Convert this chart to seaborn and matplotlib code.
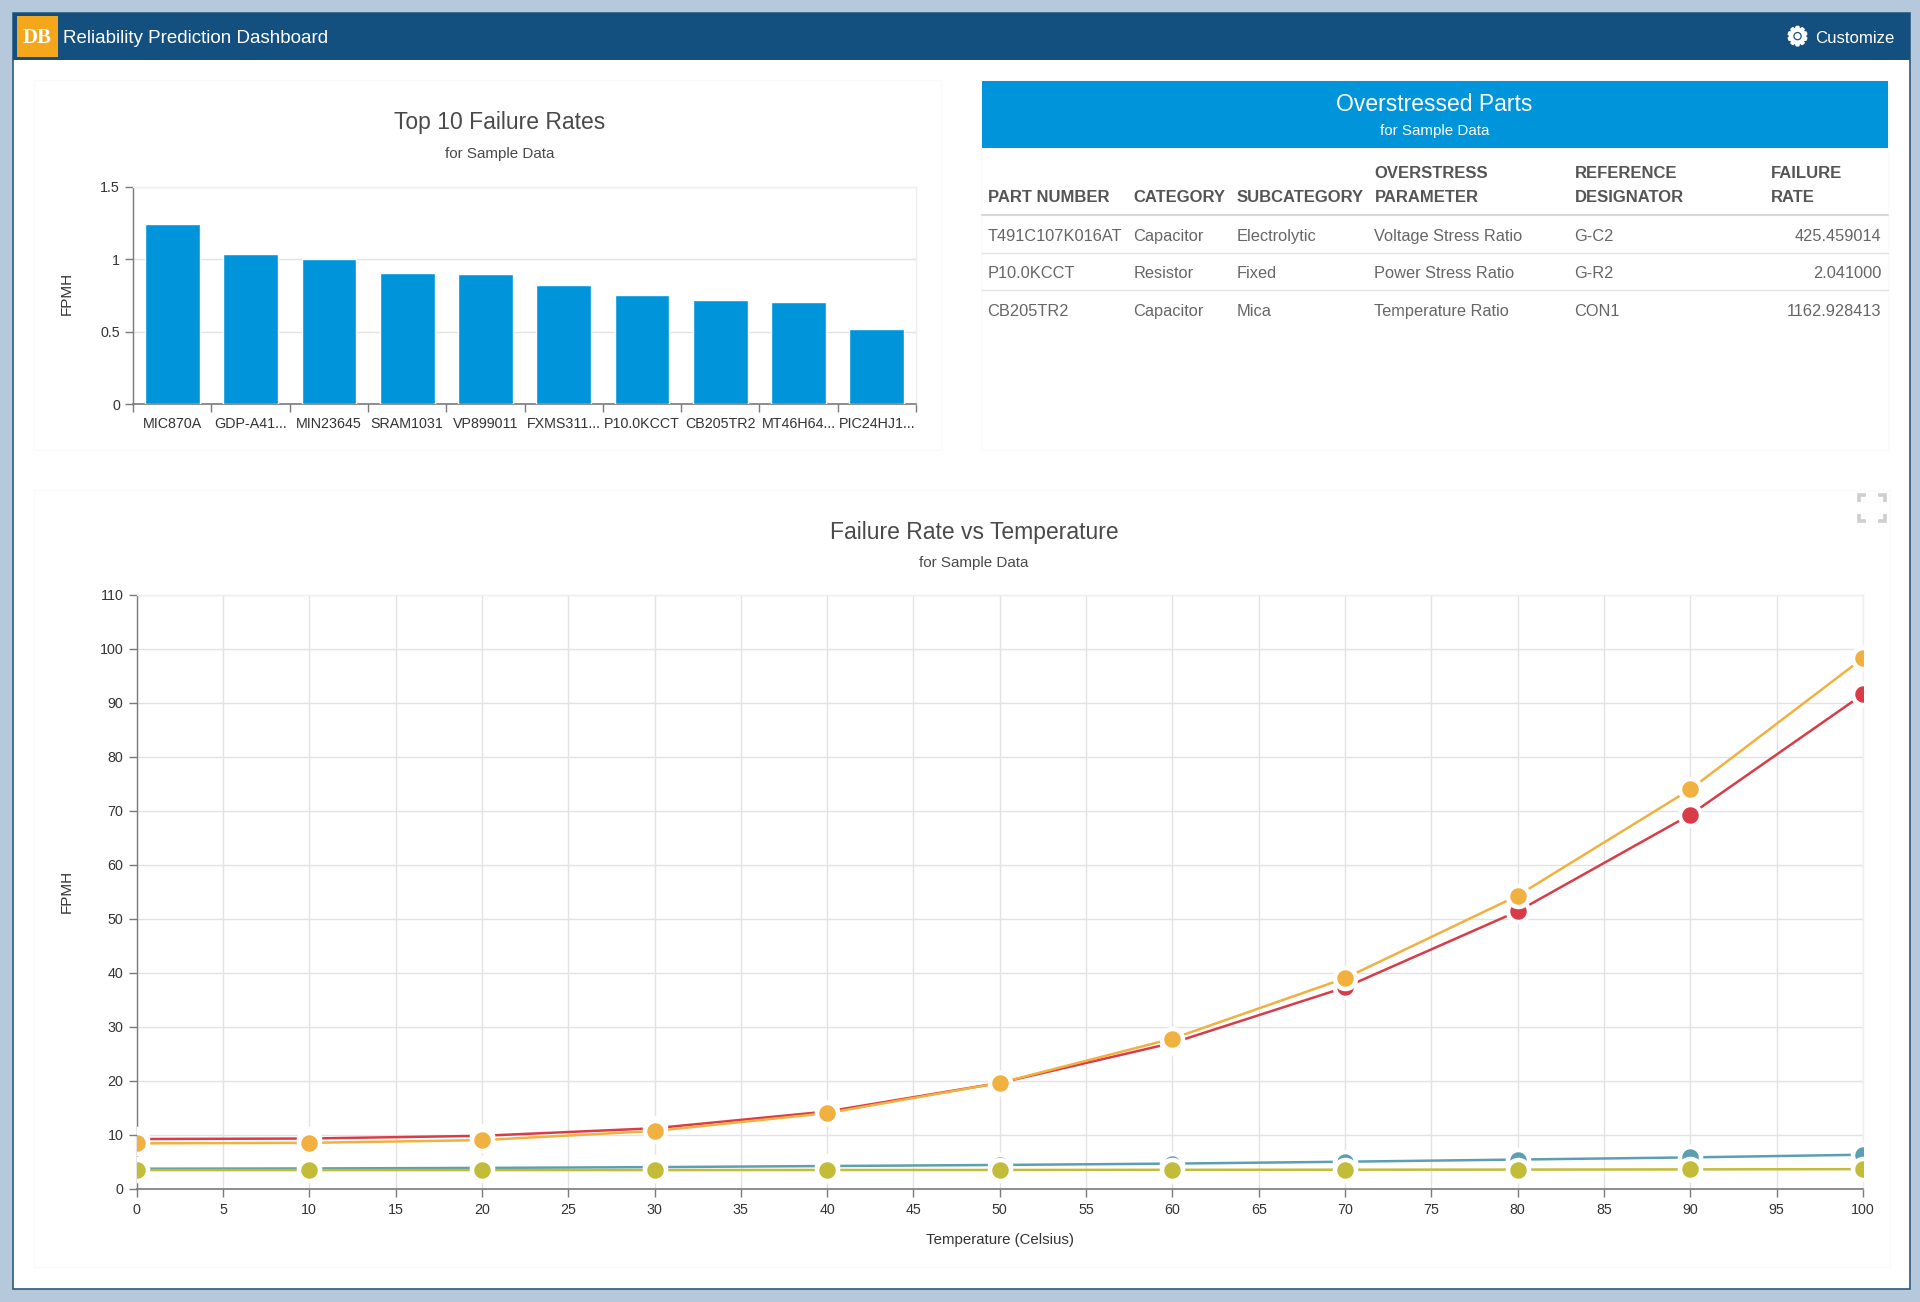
import matplotlib
matplotlib.use("Agg")
import matplotlib.pyplot as plt
import matplotlib.patheffects as pe
from matplotlib.patches import Rectangle
import pandas as pd
import seaborn as sns

# ---- data ----
part_names = ["MIC870A", "GDP-A41...", "MIN23645", "SRAM1031", "VP899011",
              "FXMS311...", "P10.0KCCT", "CB205TR2", "MT46H64...", "PIC24HJ1..."]
part_rates = [1.243, 1.038, 1.002, 0.908, 0.899, 0.823, 0.756, 0.722, 0.708, 0.522]

temps = [0, 10, 20, 30, 40, 50, 60, 70, 80, 90, 100]
red_vals = [9.2, 9.3, 9.8, 11.2, 14.3, 19.6, 27.0, 37.3, 51.4, 69.3, 91.6]
teal_vals = [3.7, 3.75, 3.85, 4.0, 4.2, 4.4, 4.65, 5.0, 5.4, 5.8, 6.3]
orange_vals = [8.4, 8.5, 9.0, 10.7, 14.0, 19.6, 27.8, 39.0, 54.3, 74.0, 98.3]
olive_vals = [3.45, 3.45, 3.45, 3.45, 3.47, 3.47, 3.5, 3.52, 3.54, 3.58, 3.62]

table_header_top = ["", "", "", "OVERSTRESS", "REFERENCE", "FAILURE"]
table_header_bottom = ["PART NUMBER", "CATEGORY", "SUBCATEGORY", "PARAMETER", "DESIGNATOR", "RATE"]
row_1 = ["T491C107K016AT", "Capacitor", "Electrolytic", "Voltage Stress Ratio", "G-C2", "425.459014"]
row_2 = ["P10.0KCCT", "Resistor", "Fixed", "Power Stress Ratio", "G-R2", "2.041000"]
row_3 = ["CB205TR2", "Capacitor", "Mica", "Temperature Ratio", "CON1", "1162.928413"]

# ---- styles ----
W, H = 1920, 1302
PX = 0.72  # points per pixel at dpi=100
sns.set_theme(style="white")
plt.rcParams["font.family"] = ["Liberation Sans", "DejaVu Sans"]

BLUE = "#0095DB"
GRID = "#E2E2E2"
AXIS = "#7A7A7A"
TITLE = "#4A4A4A"
TICK = "#333333"
series_colors = {"A": "#D83C49", "B": "#5C9FB0", "C": "#F0B140", "D": "#C2BC38"}

fig = plt.figure(figsize=(W / 100, H / 100), dpi=100, facecolor="#B5C8DC")

def axes_px(x0, y0, x1, y1, **kw):
    return fig.add_axes([x0 / W, 1 - y1 / H, (x1 - x0) / W, (y1 - y0) / H], **kw)

# ---- page chrome ----
bg = axes_px(0, 0, W, H)
bg.set_xlim(0, W)
bg.set_ylim(H, 0)
bg.axis("off")
bg.add_patch(Rectangle((13, 12.5), 1896.5, 1276, fc="white", ec="#2E5A7D", lw=1.2))
bg.add_patch(Rectangle((13, 12.5), 1896.5, 47.5, fc="#14507F", ec="none"))
bg.add_patch(Rectangle((17, 16), 41, 41, fc="#F5A71C", ec="none"))
bg.text(37.5, 38, "DB", color="white", fontsize=15, fontweight="bold",
        family="Liberation Serif", ha="center", va="center")
bg.text(63, 38.7, "Reliability Prediction Dashboard", color="white", fontsize=13.5,
        ha="left", va="center")
gear = bg.text(1797.5, 38, "\u2699", color="white", fontsize=18, family="DejaVu Sans",
               ha="center", va="center")
gear.set_path_effects([pe.withStroke(linewidth=1.6, foreground="white")])
bg.text(1815, 38.7, "Customize", color="white", fontsize=12.1, ha="left", va="center")

for x0, y0, x1, y1 in [(34, 80, 941, 450), (981, 80, 1888, 450), (34, 490, 1890, 1267)]:
    bg.add_patch(Rectangle((x0, y0), x1 - x0, y1 - y0, fc="none", ec="#FAFAFA", lw=1))

# titles
bg.text(500, 122.8, "Top 10 Failure Rates", color=TITLE, fontsize=16.5, ha="center", va="center")
bg.text(500, 154, "for Sample Data", color=TITLE, fontsize=10.9, ha="center", va="center")
bg.text(974, 532, "Failure Rate vs Temperature", color=TITLE, fontsize=16.5, ha="center", va="center")
bg.text(974, 563, "for Sample Data", color=TITLE, fontsize=10.9, ha="center", va="center")

# table
bg.add_patch(Rectangle((981.5, 81), 906.5, 67, fc=BLUE, ec="none"))
bg.text(1434.5, 104.5, "Overstressed Parts", color="white", fontsize=16.5, ha="center", va="center")
bg.text(1434.5, 130.5, "for Sample Data", color="white", fontsize=10.9, ha="center", va="center")
col_x = [987.5, 1133.5, 1237, 1374.5, 1574.5, 1771]
for x, t, b in zip(col_x, table_header_top, table_header_bottom):
    bg.text(x, 178.5, t, color="#555555", fontsize=11.95, fontweight="bold", ha="left", va="baseline")
    bg.text(x, 202.5, b, color="#555555", fontsize=11.95, fontweight="bold", ha="left", va="baseline")
bg.plot([981.5, 1888], [215, 215], color="#D8D8D8", lw=1.5)
for y, row in zip([241, 278.5, 316], [row_1, row_2, row_3]):
    for x, v in zip(col_x[:-1], row[:-1]):
        bg.text(x, y, v, color="#666666", fontsize=11.8, ha="left", va="baseline")
    bg.text(1881.5, y, row[-1], color="#666666", fontsize=11.8, ha="right", va="baseline")
for y in [253, 290]:
    bg.plot([981.5, 1888], [y, y], color="#E2E2E2", lw=1)

# expand icon
icon = "#CFCFCF"
for xc, yc, dx, dy in [(1859, 495, 1, 1), (1884.5, 495, -1, 1), (1859, 520.5, 1, -1), (1884.5, 520.5, -1, -1)]:
    bg.plot([xc + 7 * dx, xc, xc], [yc, yc, yc + 7 * dy], color=icon, lw=2.6,
            solid_capstyle="butt", solid_joinstyle="miter")

# ---- bar chart ----
ax1 = axes_px(133.2, 186.7, 916, 404.3)
bar_df = pd.DataFrame({"part": part_names, "rate": part_rates})
sns.barplot(data=bar_df, x="part", y="rate", color=BLUE, saturation=1, width=0.7, ax=ax1, zorder=3)
ax1.set_xlim(-0.5, 9.5)
ax1.set_ylim(0, 1.5)
ax1.set_yticks([0, 0.5, 1, 1.5])
ax1.set_yticklabels(["0", "0.5", "1", "1.5"])
ax1.set_xticks(range(10))
ax1.set_xticklabels(part_names)
ax1.set_xticks([i - 0.5 for i in range(11)], minor=True)
ax1.tick_params(axis="x", which="major", length=0, pad=9, labelsize=10.3, labelcolor=TICK)
ax1.tick_params(axis="x", which="minor", length=6, width=1, color=AXIS, bottom=True)
ax1.tick_params(axis="y", length=6, width=1, color=AXIS, pad=3.5, labelsize=10.3, labelcolor=TICK, left=True)
ax1.grid(axis="y", color=GRID, lw=1, zorder=0)
ax1.set_axisbelow(True)
ax1.set_xlabel("")
ax1.set_ylabel("")

# ---- line chart ----
ax2 = axes_px(136.6, 595, 1863, 1188.7)
line_df = pd.DataFrame({
    "temp": temps * 4,
    "fpmh": red_vals + teal_vals + orange_vals + olive_vals,
    "series": ["A"] * 11 + ["B"] * 11 + ["C"] * 11 + ["D"] * 11,
})
sns.lineplot(data=line_df, x="temp", y="fpmh", hue="series", hue_order=["A", "B", "C", "D"],
             palette=series_colors, marker="o", markersize=21 * PX,
             markeredgecolor="white", markeredgewidth=4.5 * PX, linewidth=1.8,
             legend=False, errorbar=None, ax=ax2, zorder=3)
ax2.set_xlim(0, 100)
ax2.set_ylim(0, 110)
ax2.set_xticks(range(0, 101, 5))
ax2.set_yticks(range(0, 111, 10))
ax2.tick_params(axis="both", length=6, width=1, color=AXIS, pad=4.5, labelsize=10.3,
                labelcolor=TICK, left=True, bottom=True)
ax2.tick_params(axis="y", pad=3.5)
ax2.grid(True, color=GRID, lw=1, zorder=0)
ax2.set_axisbelow(True)
ax2.set_xlabel("")
ax2.set_ylabel("")

for ax in (ax1, ax2):
    for s in ("top", "right"):
        ax.spines[s].set_color("#EFEFEF")
        ax.spines[s].set_linewidth(1)
    ax.spines["left"].set_color(AXIS)
    ax.spines["bottom"].set_color(AXIS)
    ax.spines["left"].set_linewidth(1)
    ax.spines["bottom"].set_linewidth(1.2)
    ax.patch.set_alpha(0)

bg.text(67, 293, "FPMH", color=TICK, fontsize=11, rotation=90, ha="center", va="center")
bg.text(67, 891, "FPMH", color=TICK, fontsize=11, rotation=90, ha="center", va="center")
bg.text(1000, 1240, "Temperature (Celsius)", color=TICK, fontsize=10.8, ha="center", va="center")

fig.savefig("out.png", dpi=100, facecolor=fig.get_facecolor())
